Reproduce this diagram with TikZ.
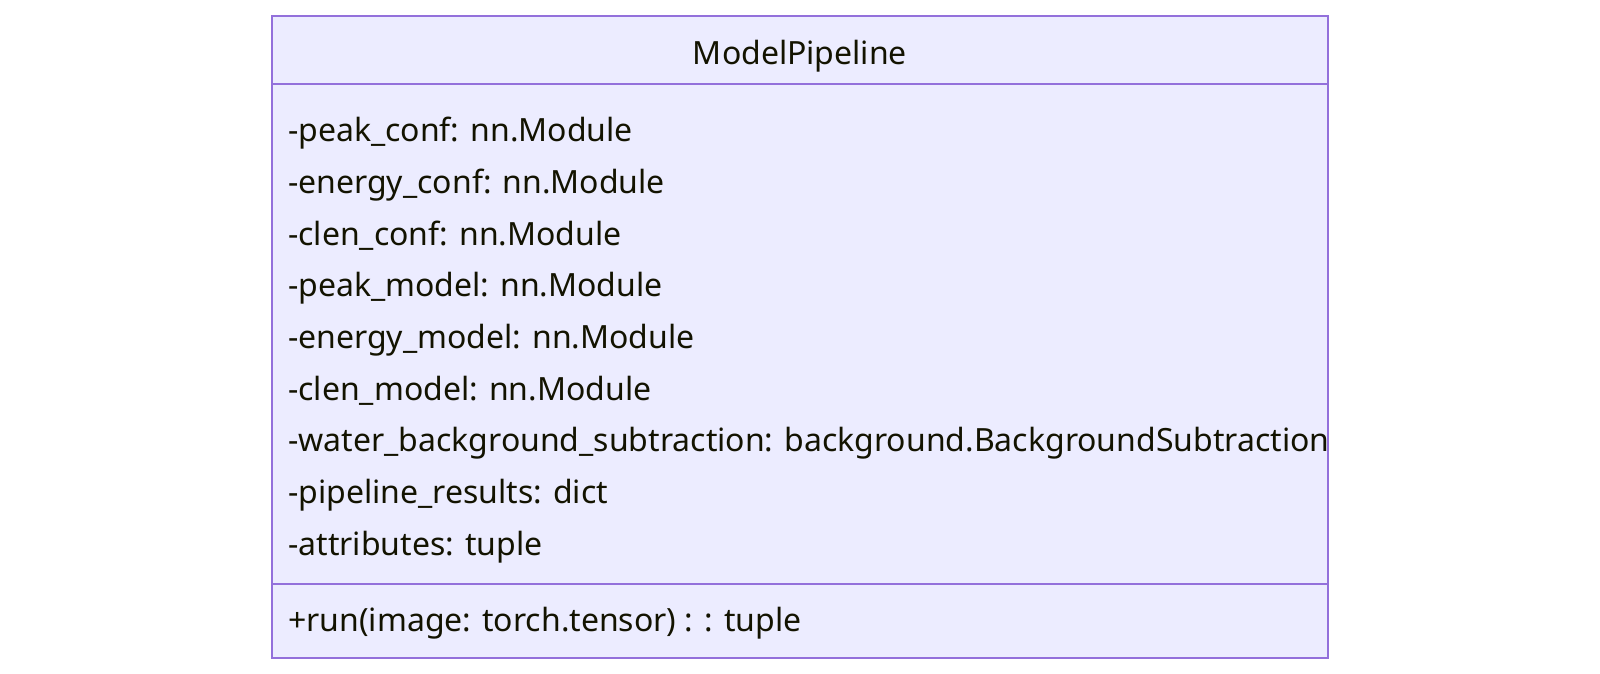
\documentclass[tikz,border=0pt]{standalone}
\usepackage{fontspec}
\setmainfont{Noto Sans}
\definecolor{boxfill}{HTML}{ECECFF}
\definecolor{boxline}{HTML}{9370DB}
\definecolor{txt}{HTML}{131300}
\begin{document}
\begin{tikzpicture}[x=1pt,y=-1pt,
  member/.style={anchor=base west,inner sep=0pt,text=txt,font=\fontsize{32}{36}\selectfont},
  title/.style={anchor=base,inner sep=0pt,text=txt,font=\fontsize{32}{36}\selectfont\bfseries},
  compartment/.style={draw=boxline,fill=boxfill,line width=1.7pt}]
\useasboundingbox (0,0) rectangle (1600,674);
\path[compartment] (272,16) rectangle (1328,658);
\draw[boxline,line width=1.7pt] (272,84) -- (1328,84);
\draw[boxline,line width=1.7pt] (272,584) -- (1328,584);
\node[title] (t) at (800,65) {ModelPipeline};
\node[member] (a1) at (288,141.7) {-peak\_conf: nn.Module};
\node[member] (a2) at (288,193.4) {-energy\_conf: nn.Module};
\node[member] (a3) at (288,245.1) {-clen\_conf: nn.Module};
\node[member] (a4) at (288,296.8) {-peak\_model: nn.Module};
\node[member] (a5) at (288,348.5) {-energy\_model: nn.Module};
\node[member] (a6) at (288,400.2) {-clen\_model: nn.Module};
\node[member] (a7) at (288,451.9) {-water\_background\_subtraction: background.BackgroundSubtraction};
\node[member] (a8) at (288,503.6) {-pipeline\_results: dict};
\node[member] (a9) at (288,555.3) {-attributes: tuple};
\node[member] (m1) at (288,631.7) {+run(image: torch.tensor) : : tuple};
\end{tikzpicture}
\end{document}
